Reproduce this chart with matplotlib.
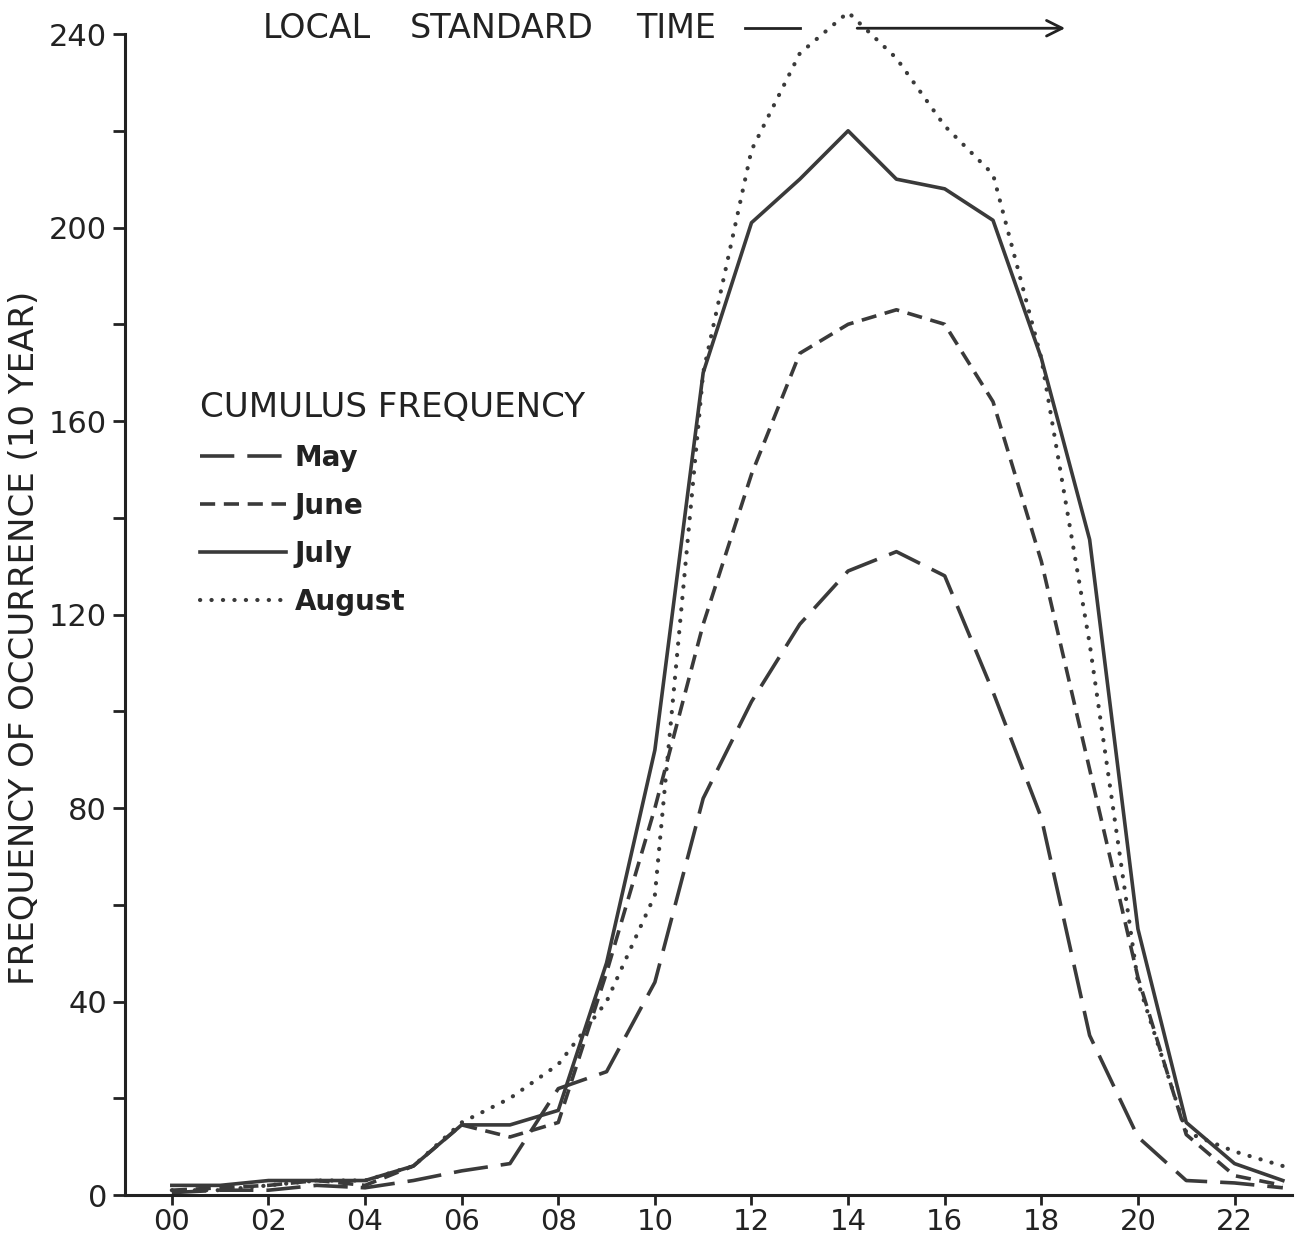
import matplotlib
matplotlib.use("Agg")
import matplotlib.pyplot as plt
from matplotlib.lines import Line2D

plt.rcParams['font.family'] = ['DejaVu Sans']

hours = list(range(24))
tick_hours = list(range(0, 24, 2))
tick_labels = ["00", "02", "04", "06", "08", "10", "12", "14", "16", "18", "20", "22"]
y_ticks = [0, 40, 80, 120, 160, 200, 240]

may = [0.5, 1, 1, 2, 1.5, 3, 5, 6.5, 22, 25.5, 44, 82, 102, 118, 129, 133, 128, 104, 78, 33, 12, 3, 2.5, 1.5]
june = [1, 1.5, 2, 3, 2, 6, 14.5, 12, 15, 46, 80, 118, 149, 174, 180, 183, 180, 164, 131, 88, 45, 12.5, 4, 2]
july = [2, 2, 3, 3, 3, 6, 14.5, 14.5, 17.5, 48, 92, 170, 201, 210, 220, 210, 208, 201.5, 173, 135.5, 55, 15, 6.5, 3]
august = [1, 1, 2, 3, 3, 6, 15, 20, 27, 40, 62, 170, 216, 236, 244.5, 235, 221, 211, 173, 114, 44, 13, 9, 6]

title_words = ["LOCAL", "STANDARD", "TIME"]

INK = "#3a3a3a"
TXT = "#222222"

fig = plt.figure(figsize=(13.06, 12.38), dpi=100)
ax = fig.add_axes([0.0957, 0.0347, 0.8936, 0.9378])

lw = 2.6
ax.plot(hours, may, color=INK, lw=lw, linestyle=(0, (9.5, 3.6)), label="May", clip_on=False)
ax.plot(hours, june, color=INK, lw=lw, linestyle=(0, (4.2, 2.4)), label="June", clip_on=False)
ax.plot(hours, july, color=INK, lw=lw, label="July", clip_on=False)
ax.plot(hours, august, color=INK, lw=3.0, linestyle=(0, (0.05, 2.7)),
        dash_capstyle='round', label="August", clip_on=False)

ax.set_xlim(-0.97, 23.19)
ax.set_ylim(0, 240)
ax.set_xticks(tick_hours)
ax.set_xticklabels(tick_labels)
ax.set_yticks(y_ticks)
ax.set_yticks([20, 60, 100, 140, 180, 220], minor=True)

for s in ["top", "right"]:
    ax.spines[s].set_visible(False)
for s in ["left", "bottom"]:
    ax.spines[s].set_linewidth(2.2)
    ax.spines[s].set_color(TXT)

ax.tick_params(axis='x', which='major', direction='out', length=7, width=2,
               color=TXT, labelsize=21, labelcolor=TXT, pad=2)
ax.tick_params(axis='y', which='major', direction='out', length=9, width=2,
               color=TXT, labelsize=22, labelcolor=TXT, pad=4)
ax.tick_params(axis='y', which='minor', direction='out', length=9, width=2, color=TXT)

ax.set_ylabel("FREQUENCY OF OCCURRENCE (10 YEAR)", fontsize=24.5, color=TXT)
ax.yaxis.set_label_coords(-0.072, 0.48)

# top annotation (words spread like the original lettering)
word_x = [0.118, 0.244, 0.438]
for wx, w in zip(word_x, title_words):
    ax.text(wx, 1.005, w, transform=ax.transAxes, fontsize=24, color=TXT,
            ha='left', va='center')
ax.add_line(Line2D([0.531, 0.578], [1.005, 1.005], transform=ax.transAxes,
                   color=TXT, lw=2, clip_on=False))
ax.annotate("", xy=(0.808, 1.005), xytext=(0.625, 1.005), xycoords='axes fraction',
            textcoords='axes fraction',
            arrowprops=dict(arrowstyle='->', color=TXT, lw=2, mutation_scale=28),
            annotation_clip=False)

leg = ax.legend(loc='upper left', bbox_to_anchor=(0.055, 0.702), frameon=False,
                title="CUMULUS FREQUENCY", prop=dict(size=20, weight='bold'),
                title_fontproperties=dict(size=24.5), handlelength=3.1,
                handletextpad=0.3, labelspacing=0.72, alignment='left',
                borderaxespad=0)
for t in leg.get_texts():
    t.set_color(TXT)
leg.get_title().set_color(TXT)

fig.savefig("out.png", dpi=100, facecolor="white")
